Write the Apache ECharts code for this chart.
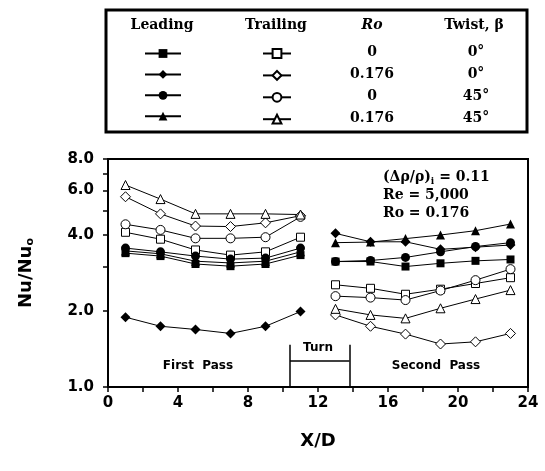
<!DOCTYPE html>
<html>
<head>
<meta charset="utf-8">
<script src="https://cdn.jsdelivr.net/npm/echarts@6/dist/echarts.min.js"></script>
<style>
html, body { margin: 0; background: #fff; }
#chart { width: 545px; height: 471px; }
</style>
</head>
<body>
<div id="chart"></div>
<script>
// X/D stations: first pass (1-11), second pass (13-23)
const xPos = [1, 3, 5, 7, 9, 11, 13, 15, 17, 19, 21, 23];

// Nu/Nuo, leading surface (filled marks)
const leadSquare   = [3.39, 3.30, 3.07, 3.01, 3.07, 3.33, 3.14, 3.14, 3.00, 3.09, 3.16, 3.20];
const leadDiamond  = [1.89, 1.74, 1.69, 1.63, 1.74, 1.99, 4.06, 3.76, 3.76, 3.51, 3.58, 3.65];
const leadCircle   = [3.55, 3.43, 3.30, 3.21, 3.24, 3.55, 3.14, 3.17, 3.26, 3.43, 3.60, 3.73];
const leadTriangle = [3.46, 3.37, 3.15, 3.10, 3.15, 3.43, 3.73, 3.75, 3.87, 4.00, 4.16, 4.42];

// trailing surface (open marks)
const trailSquare   = [4.10, 3.85, 3.49, 3.33, 3.43, 3.92, 2.54, 2.46, 2.33, 2.44, 2.57, 2.71];
const trailDiamond  = [5.67, 4.85, 4.34, 4.32, 4.47, 4.77, 1.93, 1.74, 1.62, 1.48, 1.51, 1.63];
const trailCircle   = [4.41, 4.19, 3.88, 3.88, 3.92, 4.72, 2.29, 2.26, 2.21, 2.41, 2.65, 2.93];
const trailTriangle = [6.31, 5.55, 4.85, 4.85, 4.85, 4.82, 2.04, 1.93, 1.87, 2.05, 2.23, 2.42];

const roValues = ['0', '0.176', '0', '0.176'];
const twistValues = ['0°', '0°', '45°', '45°'];

const yLabels = [1, 2, 4, 6, 8];
const yTicks = [1, 2, 3, 4, 5, 6, 7, 8];
const xLabels = [0, 4, 8, 12, 16, 20, 24];

// turn region box (X/D)
const turnStart = 10.4, turnEnd = 13.8;

const sans = 'DejaVu Sans';

// break the line between the two passes
function toData(vals) {
	let d = [];
	xPos.forEach((x, i) => {
		if (i === 6) d.push([12, null]);
		d.push([x, vals[i]]);
	});
	return d;
}

const leadNames = ['L Ro=0 0', 'L Ro=0.176 0', 'L Ro=0 45', 'L Ro=0.176 45'];
const trailNames = ['T Ro=0 0', 'T Ro=0.176 0', 'T Ro=0 45', 'T Ro=0.176 45'];
const symbols = ['rect', 'diamond', 'circle', 'triangle'];
const sizes = [8, 10, 9, 9];
const leadVals = [leadSquare, leadDiamond, leadCircle, leadTriangle];
const trailVals = [trailSquare, trailDiamond, trailCircle, trailTriangle];

let series = [];
trailNames.forEach((name, i) => {
	series.push({
		name: name, type: 'line', data: toData(trailVals[i]),
		symbol: symbols[i], symbolSize: sizes[i], connectNulls: false,
		lineStyle: { color: '#000', width: 1 },
		itemStyle: { color: '#fff', borderColor: '#000', borderWidth: 1 },
		emphasis: { disabled: true }
	});
});
leadNames.forEach((name, i) => {
	series.push({
		name: name, type: 'line', data: toData(leadVals[i]),
		symbol: symbols[i], symbolSize: sizes[i], connectNulls: false,
		lineStyle: { color: '#000', width: 1 },
		itemStyle: { color: '#000', borderColor: '#000', borderWidth: 0 },
		emphasis: { disabled: true }
	});
});
// "Turn" bracket
series.push({
	type: 'lines', coordinateSystem: 'cartesian2d', silent: true,
	lineStyle: { color: '#000', width: 1.5, opacity: 1 },
	data: [
		{ coords: [[turnStart, 1], [turnStart, 1.47]] },
		{ coords: [[turnEnd, 1], [turnEnd, 1.47]] },
		{ coords: [[turnStart, 1.27], [turnEnd, 1.27]] }
	]
});

const legendBase = {
	orient: 'vertical', top: 48, itemHeight: 11, itemGap: 11, padding: 0,
	selectedMode: false, formatter: () => '', textStyle: { fontSize: 1 }
};

let graphic = [
	{ type: 'rect', shape: { x: 106, y: 10, width: 421, height: 122 },
		style: { fill: 'none', stroke: '#000', lineWidth: 3 } },
	{ type: 'text', x: 162, y: 25, style: { text: 'Leading', font: 'bold 14px "DejaVu Serif"', align: 'center', verticalAlign: 'middle' } },
	{ type: 'text', x: 276, y: 25, style: { text: 'Trailing', font: 'bold 14px "DejaVu Serif"', align: 'center', verticalAlign: 'middle' } },
	{ type: 'text', x: 372, y: 25, style: { text: 'Ro', font: 'italic bold 14px "DejaVu Serif"', align: 'center', verticalAlign: 'middle' } },
	{ type: 'text', x: 474, y: 25, style: { text: 'Twist, β', font: 'bold 14px "DejaVu Serif"', align: 'center', verticalAlign: 'middle' } },
	{ type: 'text', x: 383, y: 168, style: {
		text: '(Δρ/ρ){s|i} = 0.11\nRe = 5,000\nRo = 0.176',
		font: 'bold 14px "DejaVu Serif"', lineHeight: 18,
		rich: { s: { font: 'bold 9px "DejaVu Serif"', verticalAlign: 'bottom', padding: [6, 0, 0, 0] } } } },
	{ type: 'text', x: 198, y: 366, style: { text: 'First  Pass', font: 'bold 12px "DejaVu Sans"', align: 'center', verticalAlign: 'middle' } },
	{ type: 'text', x: 436, y: 366, style: { text: 'Second  Pass', font: 'bold 12px "DejaVu Sans"', align: 'center', verticalAlign: 'middle' } },
	{ type: 'text', x: 318, y: 348, style: { text: 'Turn', font: 'bold 12px "DejaVu Sans"', align: 'center', verticalAlign: 'middle' } }
];
const rowY = [52, 74, 96, 118];
rowY.forEach((y, i) => {
	graphic.push({ type: 'text', x: 372, y: y, style: { text: roValues[i], font: 'bold 14px "DejaVu Serif"', align: 'center', verticalAlign: 'middle' } });
	graphic.push({ type: 'text', x: 476, y: y, style: { text: twistValues[i], font: 'bold 14px "DejaVu Serif"', align: 'center', verticalAlign: 'middle' } });
});

const chart = echarts.init(document.getElementById('chart'));
chart.setOption({
	animation: false,
	backgroundColor: '#fff',
	grid: { left: 108, top: 159, width: 420, height: 228, show: true, borderColor: '#000', borderWidth: 2 },
	legend: [
		Object.assign({}, legendBase, { data: leadNames, left: 144, itemWidth: 36 }),
		Object.assign({}, legendBase, { data: trailNames, left: 262, itemWidth: 28 })
	],
	xAxis: {
		type: 'value', min: 0, max: 24, interval: 2,
		name: 'X/D', nameLocation: 'middle', nameGap: 45,
		nameTextStyle: { fontFamily: sans, fontWeight: 'bold', fontSize: 18, color: '#000' },
		axisLine: { lineStyle: { color: '#000', width: 2 } },
		axisTick: { length: 5, lineStyle: { color: '#000', width: 1.5 } },
		axisLabel: { customValues: xLabels, margin: 9, color: '#000', fontFamily: sans, fontWeight: 'bold', fontSize: 15 },
		splitLine: { show: false }
	},
	yAxis: {
		type: 'log', logBase: 2, min: 1, max: 8,
		name: 'Nu/Nu{s|o}', nameLocation: 'middle', nameGap: 72, nameRotate: 90,
		nameTextStyle: { fontFamily: sans, fontWeight: 'bold', fontSize: 18, color: '#000',
			rich: { s: { fontFamily: sans, fontWeight: 'bold', fontSize: 11, padding: [8, 0, 0, 0] } } },
		axisLine: { lineStyle: { color: '#000', width: 2 } },
		axisTick: { customValues: yTicks, length: 5, lineStyle: { color: '#000', width: 1.5 } },
		axisLabel: { customValues: yLabels, margin: 14, color: '#000', fontFamily: sans, fontWeight: 'bold', fontSize: 15,
			formatter: v => Number(v).toFixed(1) },
		splitLine: { show: false }
	},
	graphic: graphic,
	series: series
});
</script>
</body>
</html>
